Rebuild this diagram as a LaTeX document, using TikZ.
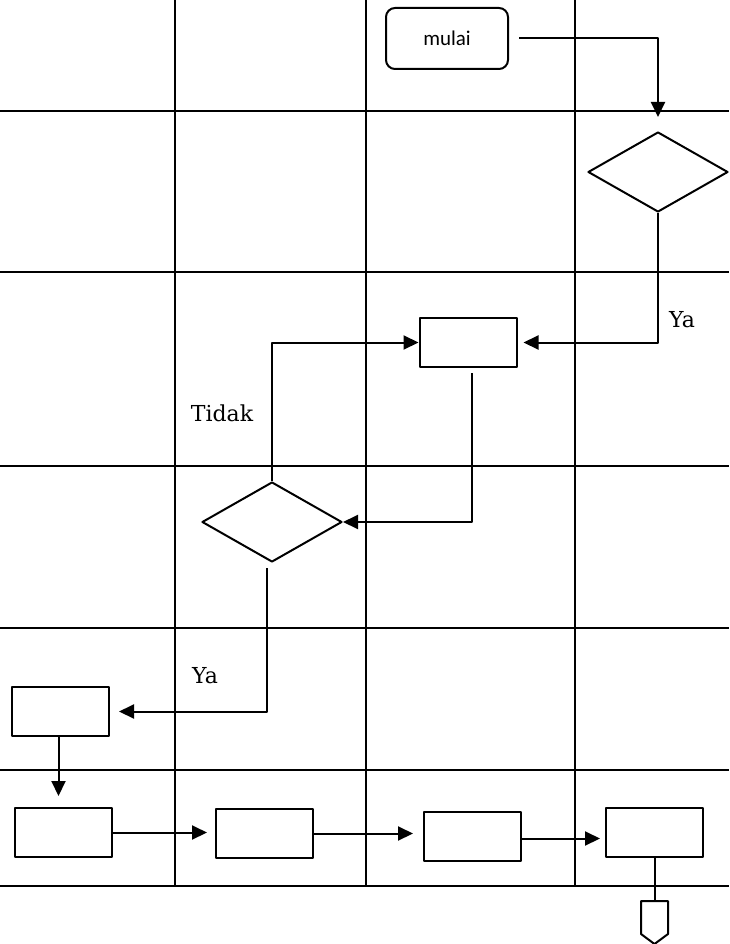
\documentclass[tikz,border=0pt]{standalone}
\usepackage{fontspec}
\setmainfont{DejaVu Serif}
\newfontfamily\labelsans{Carlito}
\usetikzlibrary{arrows.meta,shapes.geometric}
\tikzset{
	proc/.style={draw, line width=2pt, minimum width=97pt, minimum height=49pt, inner sep=0pt},
	decide/.style={draw, diamond, line width=2pt, minimum width=140pt, minimum height=80pt, inner sep=0pt},
	flow/.style={line width=2pt, -{Triangle[length=15pt,width=14pt]}},
	lbl/.style={font=\fontsize{22}{26}\selectfont, inner sep=0pt}
}
\begin{document}
\begin{tikzpicture}[x=1pt, y=-1pt, line join=round]
		\useasboundingbox (0,0) rectangle (729,944);
		% garis lajur
		\foreach \yy in {111,272,466,628,770,886} \draw[line width=1.5pt] (0,\yy) -- (729,\yy);
		\foreach \xx in {175,366,575} \draw[line width=1.5pt] (\xx,0) -- (\xx,886);
		% simbol alir
		\node[draw, line width=2pt, rounded corners=9pt, minimum width=122pt, minimum height=61pt, font=\labelsans\fontsize{21}{24}\selectfont] (mulai) at (447,38.5) {mulai};
		\node[decide] (cek1) at (658,172) {};
		\node[proc] (proses1) at (468,342.5) {};
		\node[decide] (cek2) at (272,522) {};
		\node[proc] (proses2) at (60.5,711.5) {};
		\node[proc] (proses3) at (63.5,832.5) {};
		\node[proc] (proses4) at (264.5,833.5) {};
		\node[proc] (proses5) at (472.5,836.5) {};
		\node[proc] (proses6) at (654.5,832.5) {};
		\coordinate (lanjut) at ([yshift=-43pt]proses6.south);
		% keterangan
		\node[lbl] (yaKanan) at (682,320) {Ya};
		\node[lbl] (tidak) at (222,413) {Tidak};
		\node[lbl] (yaKiri) at (205,676) {Ya};
		% konektor halaman
		\draw[line width=2pt] (lanjut) -- ++(13.5,0) -- ++(0,33) -- ++(-13.5,10) -- ++(-13.5,-10) -- ++(0,-33) -- cycle;
		% panah
		\draw[flow, shorten <=10pt, shorten >=14pt] (mulai.east) -| (cek1.north);
		\draw[flow, shorten >=6pt] (cek1.south) |- (proses1.east);
		\draw[flow, shorten <=5pt] ([xshift=4pt]proses1.south) |- (cek2.east);
		\draw[flow] (cek2.north) |- (proses1.west);
		\draw[flow, shorten <=5pt, shorten >=9pt] ([xshift=-5pt]cek2.south) |- (proses2.east);
		\draw[flow, shorten >=11pt] ([xshift=-2pt]proses2.south) -- ([xshift=-5pt]proses3.north);
		\draw[flow, shorten >=8pt] (proses3.east) -- (proses3.east -| proses4.west);
		\draw[flow, shorten >=10pt] (proses4.east) -- (proses4.east -| proses5.west);
		\draw[flow, shorten >=5pt] ([yshift=-2pt]proses5.east) -- ([yshift=-2pt]proses5.east -| proses6.west);
		\draw[line width=2pt] (proses6.south) -- (lanjut);
	\end{tikzpicture}
\end{document}
